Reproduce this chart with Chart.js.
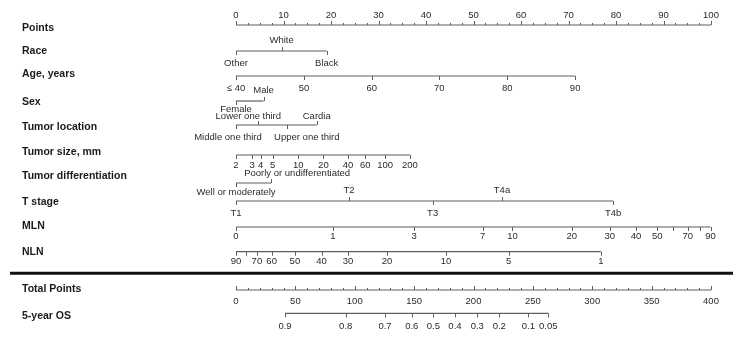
<!DOCTYPE html>
<html>
<head>
<meta charset="utf-8">
<script src="https://cdn.jsdelivr.net/npm/chart.js@4"></script>
<style>
  body { margin: 0; background: #fff; }
  canvas { display: block; }
</style>
</head>
<body>
<canvas id="nomogram" width="745" height="338"></canvas>
<script>
// nomogram values
// (points on a 0-100 scale, total points on a 0-400 scale)

const pointsLabels = ["0", "10", "20", "30", "40", "50", "60", "70", "80", "90", "100"];
const pointsValues = [0, 10, 20, 30, 40, 50, 60, 70, 80, 90, 100];

const raceLabels = ["Other", "White", "Black"];
const racePoints = [0, 9.6, 19.1];

const ageLabels = ["\u2264 40", "50", "60", "70", "80", "90"];
const agePoints = [0, 14.3, 28.6, 42.8, 57.1, 71.4];

const sexLabels = ["Female", "Male"];
const sexPoints = [0, 5.8];

const locationLabels = ["Middle one third", "Lower one third", "Upper one third", "Cardia"];
const locationPoints = [0, 4.7, 10.7, 17.0];

const sizeLabels = ["2", "3", "4", "5", "10", "20", "40", "60", "100", "200"];
const sizePoints = [0, 3.4, 5.2, 7.7, 13.1, 18.4, 23.6, 27.2, 31.4, 36.6];

const diffLabels = ["Well or moderately", "Poorly or undifferentiated"];
const diffPoints = [0, 7.4];

const tStageLabels = ["T1", "T2", "T3", "T4a", "T4b"];
const tStagePoints = [0, 23.8, 41.4, 56.0, 79.4];

const mlnLabels = ["0", "1", "3", "7", "10", "20", "30", "40", "50", "", "70", "", "90"];
const mlnPoints = [0, 20.4, 37.5, 51.9, 58.2, 70.7, 78.7, 84.2, 88.7, 92.1, 95.1, 97.7, 99.9];

const nlnLabels = ["90", "", "70", "60", "50", "40", "30", "20", "10", "5", "1"];
const nlnPoints = [0, 2.1, 4.4, 7.5, 12.4, 18.0, 23.6, 31.8, 44.2, 57.4, 76.8];

const totalLabels = ["0", "50", "100", "150", "200", "250", "300", "350", "400"];
const totalValues = [0, 50, 100, 150, 200, 250, 300, 350, 400];

const osLabels = ["0.9", "0.8", "0.7", "0.6", "0.5", "0.4", "0.3", "0.2", "0.1", "0.05"];
const osTotalPoints = [41.3, 92.4, 125.5, 148.0, 166.2, 184.4, 203.2, 221.7, 246.2, 263.0];

// LAYOUT (y in page pixels, a = label above line, b = below)
const rows = [
  { name: "Points", labels: pointsLabels, values: pointsValues, axis: "x", nameY: 28.3, lineY: 25, above: 15, below: 0, sides: "a", tickUp: true, minor: 2.5 },
  { name: "Race", labels: raceLabels, values: racePoints, axis: "x", nameY: 50.7, lineY: 51, above: 40.7, below: 63.3, sides: ["b", "a", "b"] },
  { name: "Age, years", labels: ageLabels, values: agePoints, axis: "x", nameY: 74, lineY: 76, above: 0, below: 88.3, sides: "b" },
  { name: "Sex", labels: sexLabels, values: sexPoints, axis: "x", nameY: 101.7, lineY: 101, above: 90.7, below: 109.5, sides: ["b", "a"] },
  { name: "Tumor location", labels: locationLabels, values: locationPoints, axis: "x", nameY: 126.7, lineY: 125, above: 116.5, below: 137.3, sides: ["b", "a", "b", "a"], dx: [-8, -10, 20, 0] },
  { name: "Tumor size, mm", labels: sizeLabels, values: sizePoints, axis: "x", nameY: 151.7, lineY: 155, above: 0, below: 165, sides: "b" },
  { name: "Tumor differentiation", labels: diffLabels, values: diffPoints, axis: "x", nameY: 176, lineY: 183, above: 173.3, below: 192, sides: ["b", "a"], dx: [0, 26] },
  { name: "T stage", labels: tStageLabels, values: tStagePoints, axis: "x", nameY: 201.7, lineY: 201, above: 190, below: 213.3, sides: ["b", "a", "b", "a", "b"] },
  { name: "MLN", labels: mlnLabels, values: mlnPoints, axis: "x", nameY: 226, lineY: 227, above: 0, below: 236, sides: "b" },
  { name: "NLN", labels: nlnLabels, values: nlnPoints, axis: "x", nameY: 251.7, lineY: 251.7, above: 0, below: 261, sides: "b" },
  { name: "Total Points", labels: totalLabels, values: totalValues, axis: "xt", nameY: 289.3, lineY: 290, above: 0, below: 301, sides: "b", tickUp: true, minor: 10 },
  { name: "5-year OS", labels: osLabels, values: osTotalPoints, axis: "xt", nameY: 316, lineY: 313.3, above: 0, below: 326, sides: "b" }
];
const separatorY = 273.3;

const lineColor = "#5f5f5f";
const textColor = "#2b2b2b";
const fontFamily = "'Liberation Sans', Arial, sans-serif";

// DATASETS - one horizontal scale line per row
const datasets = rows.map(row => ({
  label: row.name,
  data: row.values.map(v => ({ x: v, y: row.lineY })),
  xAxisID: row.axis,
  yAxisID: "y",
  borderColor: lineColor,
  borderWidth: 1.2,
  pointRadius: 0,
  fill: false
}));

// ticks, tick labels and row names
const nomogramPlugin = {
  id: "nomogram",
  afterDatasetsDraw(chart) {
    const ctx = chart.ctx;
    const yScale = chart.scales.y;
    ctx.save();

    // separator above total points
    const sy = yScale.getPixelForValue(separatorY);
    ctx.strokeStyle = "#111";
    ctx.lineWidth = 3;
    ctx.beginPath();
    ctx.moveTo(10, sy);
    ctx.lineTo(733, sy);
    ctx.stroke();

    rows.forEach(row => {
      const xScale = chart.scales[row.axis];
      const y = yScale.getPixelForValue(row.lineY);

      ctx.font = "bold 10.5px " + fontFamily;
      ctx.fillStyle = "#1a1a1a";
      ctx.textAlign = "left";
      ctx.textBaseline = "middle";
      ctx.fillText(row.name, 22, yScale.getPixelForValue(row.nameY));

      ctx.strokeStyle = lineColor;
      ctx.lineWidth = 1;

      if (row.minor) {
        const last = row.values[row.values.length - 1];
        for (let v = row.values[0]; v <= last; v += row.minor) {
          const x = Math.round(xScale.getPixelForValue(v)) + 0.5;
          ctx.beginPath();
          ctx.moveTo(x, y);
          ctx.lineTo(x, y - 2);
          ctx.stroke();
        }
      }

      ctx.font = "9.5px " + fontFamily;
      ctx.fillStyle = textColor;
      ctx.textAlign = "center";
      row.values.forEach((v, j) => {
        const side = typeof row.sides === "string" ? row.sides : row.sides[j];
        const x = Math.round(xScale.getPixelForValue(v)) + 0.5;
        const up = row.tickUp || side === "a";
        ctx.beginPath();
        ctx.moveTo(x, y);
        ctx.lineTo(x, up ? y - 4 : y + 4);
        ctx.stroke();
        const ly = yScale.getPixelForValue(side === "a" ? row.above : row.below);
        const dx = row.dx ? row.dx[j] : 0;
        ctx.fillText(row.labels[j], xScale.getPixelForValue(v) + dx, ly);
      });
    });
    ctx.restore();
  }
};

new Chart(document.getElementById("nomogram").getContext("2d"), {
  type: "line",
  data: { datasets: datasets },
  options: {
    responsive: false,
    animation: false,
    devicePixelRatio: 1,
    layout: { padding: { left: 236, right: 34, top: 0, bottom: 0 } },
    plugins: { legend: { display: false }, tooltip: { enabled: false } },
    scales: {
      x: { type: "linear", min: 0, max: 100, display: false },
      xt: { type: "linear", min: 0, max: 400, display: false },
      y: { type: "linear", min: 0, max: 338, reverse: true, display: false }
    }
  },
  plugins: [nomogramPlugin]
});
</script>
</body>
</html>
